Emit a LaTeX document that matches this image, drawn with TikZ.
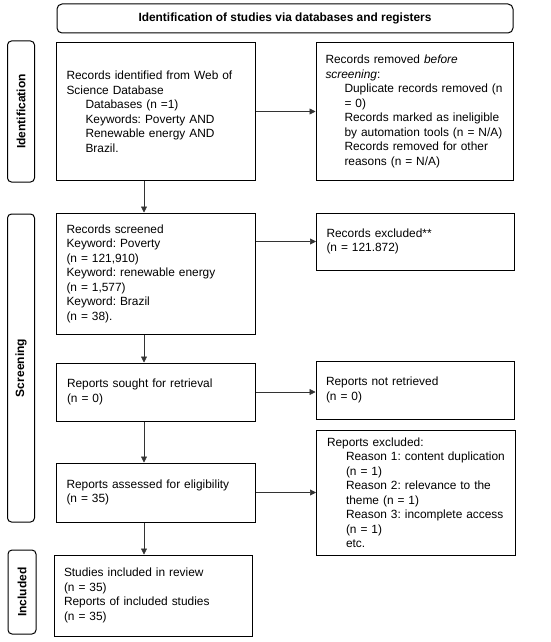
\documentclass[tikz,border=0pt]{standalone}
\usepackage{fontspec}
\setmainfont{Liberation Sans}
\usetikzlibrary{arrows.meta}
\newcommand\ind{\hspace*{19pt}}
\frenchspacing
\begin{document}
\begin{tikzpicture}[x=1pt,y=-1pt,
  box/.style={draw=black,line width=1pt,inner sep=0pt,align=left,
    font=\fontsize{11.9}{14.5}\selectfont},
  side/.style={draw=black,line width=1pt,rounded corners=4pt,inner sep=0pt},
  lab/.style={rotate=90,font=\bfseries\fontsize{12}{14}\selectfont},
  arr/.style={draw=black!80,line width=0.6pt,-{Triangle[length=6pt,width=6pt]}}]
\useasboundingbox (0,0) rectangle (550,642);
\node[draw=black,line width=1pt,rounded corners=5pt,minimum width=456pt,minimum height=29pt,font=\bfseries\fontsize{11.9}{14}\selectfont] (title) at (285,18.5) {Identification of studies via databases and registers};
\node[side,minimum width=27pt,minimum height=141pt] (sid) at (21,111.5) {};
\node[lab] (sidt) at (sid.center) {Identification};
\node[side,minimum width=27pt,minimum height=308pt] (ssc) at (21,368) {};
\node[lab] (ssct) at (ssc.center) {Screening};
\node[side,minimum width=28pt,minimum height=84pt] (sin) at (22,592) {};
\node[lab] (sint) at (sin.center) {Included};
\node[box,minimum width=199pt,minimum height=137pt,text width=178pt] (b1) at (155.5,111.5) {Records identified from Web of\\Science Database\\\ind Databases (n =1)\\\ind Keywords: Poverty AND\\\ind Renewable energy AND\\\ind Brazil.};
\node[box,minimum width=197pt,minimum height=137pt,text width=178pt] (r1) at (414.5,111.5) {Records removed \textit{before}\\\textit{screening}:\\\ind Duplicate records removed (n\\\ind = 0)\\\ind Records marked as ineligible\\\ind by automation tools (n = N/A)\\\ind Records removed for other\\\ind reasons (n = N/A)};
\node[box,minimum width=199pt,minimum height=121pt,text width=178pt] (b2) at (155.5,273.5) {Records screened\\Keyword: Poverty\\(n = 121,910)\\Keyword: renewable energy\\(n = 1,577)\\Keyword: Brazil\\(n = 38).};
\node[box,minimum width=198pt,minimum height=57pt,text width=178pt] (r2) at (415.5,241.5) {Records excluded**\\(n = 121.872)};
\node[box,minimum width=199pt,minimum height=58pt,text width=178pt] (b3) at (156,392) {Reports sought for retrieval\\(n = 0)};
\node[box,minimum width=198pt,minimum height=58pt,text width=178pt] (r3) at (415,390) {Reports not retrieved\\(n = 0)};
\node[box,minimum width=199pt,minimum height=59pt,text width=178pt] (b4) at (155.5,492.5) {Reports assessed for eligibility\\(n = 35)};
\node[box,minimum width=199pt,minimum height=125pt,text width=178pt] (r4) at (416,492.5) {Reports excluded:\\\ind Reason 1: content duplication\\\ind (n = 1)\\\ind Reason 2: relevance to the\\\ind theme (n = 1)\\\ind Reason 3: incomplete access\\\ind (n = 1)\\\ind etc.};
\node[box,minimum width=198pt,minimum height=81pt,text width=178pt] (b5) at (153,595.5) {Studies included in review\\(n = 35)\\Reports of included studies\\(n = 35)};
\coordinate (ax) at (144,0);
\draw[arr] (b1.east |- r1.west) -- (r1.west);
\draw[arr] (b2.east |- r2.west) -- (r2.west);
\draw[arr] (b3.east) -- (b3.east -| r3.west);
\draw[arr] (b4.east) -- (b4.east -| r4.west);
\draw[arr] (b1.south -| ax) -- (b2.north -| ax);
\draw[arr] (b2.south -| ax) -- (b3.north -| ax);
\draw[arr] (b3.south -| ax) -- (b4.north -| ax);
\draw[arr] (b4.south -| ax) -- (b5.north -| ax);
\end{tikzpicture}
\end{document}
